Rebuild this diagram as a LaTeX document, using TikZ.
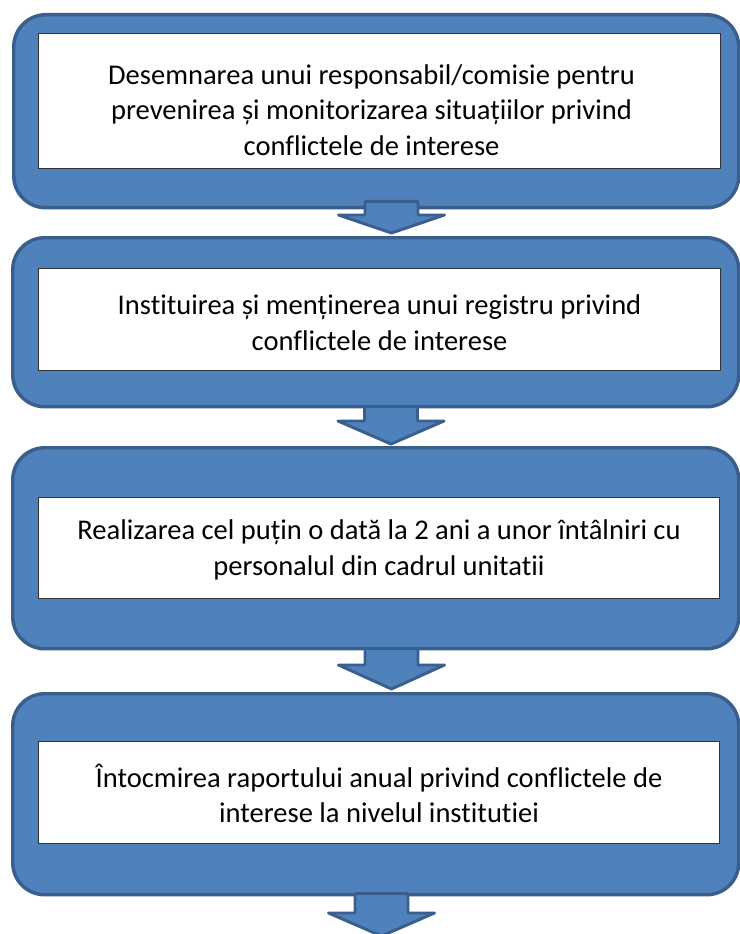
\documentclass[tikz,border=0pt]{standalone}
\usepackage{fontspec}
\setmainfont{Carlito}[Ligatures=NoCommon]
\usetikzlibrary{calc}
\definecolor{boxblue}{HTML}{4F81BD}
\definecolor{boxedge}{HTML}{3A5F8C}
\tikzset{
  outerbox/.style={draw=boxedge, fill=boxblue, line width=2.6pt, rounded corners=24pt, inner sep=0pt, anchor=north west},
  innerbox/.style={draw=black!80, fill=white, line width=0.8pt, inner sep=0pt, anchor=north west},
  boxtext/.style={align=center, font=\fontsize{21.4}{26.8}\selectfont, inner sep=0pt, text=black},
  blockarrow/.style={draw=boxedge, fill=boxblue, line width=2.2pt, line join=round}
}
% #1 upper node, #2 tip point, #3 x centre (px), #4 shaft start above upper south (px), #5 head length (px)
\newcommand\blockdown[5]{%
  \draw[blockarrow] let \p1=(#1.south), \p2=#2 in
    ({(#3-26.5)*0.75pt},{\y1+(#4)*0.75pt}) -- ({(#3+26.5)*0.75pt},{\y1+(#4)*0.75pt})
    -- ({(#3+26.5)*0.75pt},{\y2+(#5)*0.75pt}) -- ({(#3+53)*0.75pt},{\y2+(#5)*0.75pt})
    -- ({(#3)*0.75pt},{\y2}) -- ({(#3-53)*0.75pt},{\y2+(#5)*0.75pt})
    -- ({(#3-26.5)*0.75pt},{\y2+(#5)*0.75pt}) -- cycle;}
\begin{document}
\begin{tikzpicture}[x=0.75pt, y=-0.75pt]
\useasboundingbox[fill=white] (0,0) rectangle (739,934);
% outer boxes
\node[outerbox, minimum width={725*0.75pt}, minimum height={193*0.75pt}] (b1) at (12,13) {};
\node[outerbox, minimum width={726*0.75pt}, minimum height={169*0.75pt}] (b2) at (11,236) {};
\node[outerbox, minimum width={726*0.75pt}, minimum height={201*0.75pt}] (b3) at (11,446) {};
\node[outerbox, minimum width={726*0.75pt}, minimum height={201*0.75pt}] (b4) at (11,692) {};
% inner boxes
\node[innerbox, minimum width={682*0.75pt}, minimum height={135*0.75pt}] (i1) at (38,33) {};
\node[innerbox, minimum width={682*0.75pt}, minimum height={102*0.75pt}] (i2) at (38,268) {};
\node[innerbox, minimum width={681*0.75pt}, minimum height={101*0.75pt}] (i3) at (38,497) {};
\node[innerbox, minimum width={681*0.75pt}, minimum height={102*0.75pt}] (i4) at (38,741) {};
% texts
\node[boxtext] (t1) at ($(i1.center)+(-8,9)$) {Desemnarea unui responsabil/comisie pentru\\prevenirea și monitorizarea situațiilor privind\\conflictele de interese};
\node[boxtext] (t2) at ($(i2.center)+(0,3)$) {Instituirea și menținerea unui registru privind\\conflictele de interese};
\node[boxtext] (t3) at ($(i3.center)+(0,2)$) {Realizarea cel puțin o dată la 2 ani a unor întâlniri cu\\personalul din cadrul unitatii};
\node[boxtext] (t4) at ($(i4.center)+(0,1)$) {Întocmirea raportului anual privind conflictele de\\interese la nivelul institutiei};
% arrows
\coordinate (tip4) at (382,936);
\blockdown{b1}{($(b2.north)+(0,-3)$)}{391.5}{8}{18}
\blockdown{b2}{($(b3.north)+(0,-2)$)}{391}{2}{23}
\blockdown{b3}{($(b4.north)+(0,-3)$)}{391.5}{2}{24}
\blockdown{b4}{(tip4)}{381.5}{3}{23}
\end{tikzpicture}
\end{document}
